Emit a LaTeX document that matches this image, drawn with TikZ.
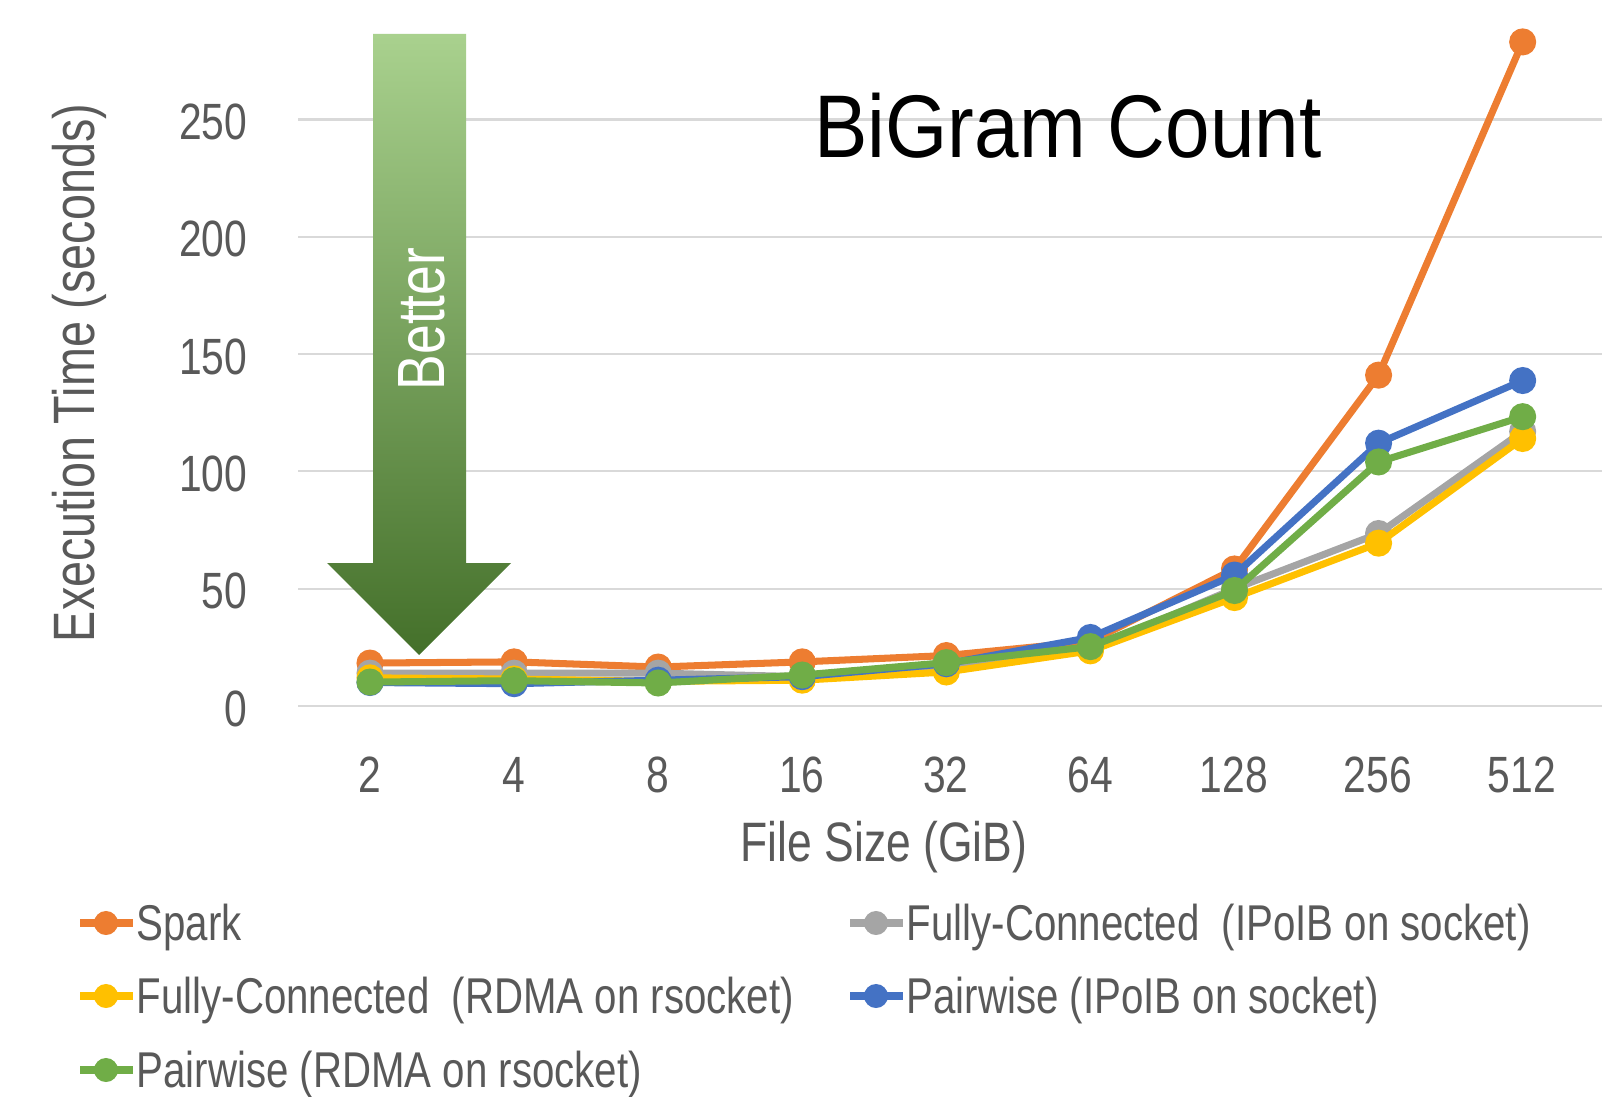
\documentclass[tikz,border=0pt]{standalone}
\usepackage{fontspec}
\setmainfont[FakeStretch=0.8]{Liberation Sans}
\newfontfamily\titlefont[FakeStretch=0.9]{Liberation Sans}
\usepackage{xcolor}
\usetikzlibrary{positioning}
\definecolor{cspark}{HTML}{ED7D31}
\definecolor{cfcip}{HTML}{A5A5A5}
\definecolor{cfcrd}{HTML}{FFC000}
\definecolor{cpwip}{HTML}{4472C4}
\definecolor{cpwrd}{HTML}{70AD47}
\definecolor{ctxt}{HTML}{595959}
\definecolor{cgrid}{HTML}{D9D9D9}
\definecolor{carrtop}{HTML}{A9D18E}
\definecolor{carrmid}{HTML}{80BA5A}
\definecolor{carrbot}{HTML}{44702A}

\begin{document}
\begin{tikzpicture}[
  x=0.01cm, y=-0.01cm,
  tick/.style={text=ctxt, font=\fontsize{14.5}{17}\selectfont, inner sep=0pt},
  axtitle/.style={text=ctxt, font=\fontsize{15.8}{18}\selectfont, inner sep=0pt},
  lgtxt/.style={text=ctxt, font=\fontsize{14.3}{17}\selectfont, inner sep=0pt, anchor=base west},
  gridln/.style={draw=cgrid, line width=0.6pt},
  ser/.style={line width=2pt, draw=#1, mark=*, mark size=3.6pt,
    mark options={fill=#1, draw=#1, line width=0.5pt}},
  lgline/.style={line width=2pt, draw=#1},
]
  \useasboundingbox (0,0) rectangle (1602,1097);
  % --- grid + y ticks ---
  \foreach \v in {0,50,...,250} {
    \draw[gridln] (298,{706-2.346*\v}) -- (1602,{706-2.346*\v});
    \node[tick, anchor=base east] (yt\v) at (248,{706-2.346*\v+20}) {\v};
  }
  % --- x ticks ---
  \foreach \i/\l in {0/2,1/4,2/8,3/16,4/32,5/64,6/128,7/256,8/512}
    {\node[tick, anchor=base] (xt\i) at ({370+144*\i},792) {\l};}
  % --- axis titles + title ---
  \node[axtitle, anchor=base] (xlab) at (884,861) {File Size (GiB)};
  \node[axtitle, anchor=base, rotate=90, font=\fontsize{16.6}{19}\selectfont] (ylab) at (94,373) {Execution Time (seconds)};
  \node[inner sep=0pt, anchor=base, font=\titlefont\fontsize{25.3}{30}\selectfont] (ttl) at (1068,158) {BiGram Count};
  % --- "better" arrow ---
  \shade[top color=carrtop, middle color=carrmid, bottom color=carrbot]
    (373,34) -- (466,34) -- (466,563) -- (511,563) -- (419,655) -- (327,563) -- (373,563) -- cycle;
  \node[inner sep=0pt, anchor=base, rotate=90, text=white, font=\fontsize{19}{22}\selectfont] (btr) at (444,319) {Better};
  % --- series ---
  \begin{scope}[shift={(370,706)}, x=1.44cm, y=0.02346cm]
    \draw[ser=cspark] plot coordinates {(0,18.3) (1,18.8) (2,16.6) (3,18.8) (4,21.5) (5,27.5) (6,58.4) (7,141) (8,283)};
    \draw[ser=cfcip] plot coordinates {(0,14) (1,14) (2,14) (3,12.5) (4,16.5) (5,24) (6,50) (7,73.5) (8,117)};
    \draw[ser=cfcrd] plot coordinates {(0,12) (1,11.5) (2,10.5) (3,11) (4,14.5) (5,23.5) (6,46.2) (7,69.4) (8,114)};
    \draw[ser=cpwip] plot coordinates {(0,10) (1,9.5) (2,11) (3,12.5) (4,18) (5,29.2) (6,55.8) (7,112) (8,138.7)};
    \draw[ser=cpwrd] plot coordinates {(0,10.2) (1,10.8) (2,9.8) (3,13.2) (4,18.5) (5,25.3) (6,49.2) (7,104) (8,123.3)};
  \end{scope}
  % --- legend ---
  \foreach \c/\lx/\ly/\t/\n in {cspark/80/923/Spark/a,
      cfcip/850/923/Fully-Connected~ (IPoIB on socket)/b,
      cfcrd/80/996/Fully-Connected~ (RDMA on rsocket)/c,
      cpwip/850/996/Pairwise (IPoIB on socket)/d,
      cpwrd/80/1070/Pairwise (RDMA on rsocket)/e} {
    \draw[lgline=\c] (\lx,\ly) -- ++(53,0);
    \fill[\c] (\lx+26,\ly) circle[radius=0.12cm];
    \node[lgtxt] (lg\n) at (\lx+56,\ly+17) {\t};
  }
\end{tikzpicture}
\end{document}
